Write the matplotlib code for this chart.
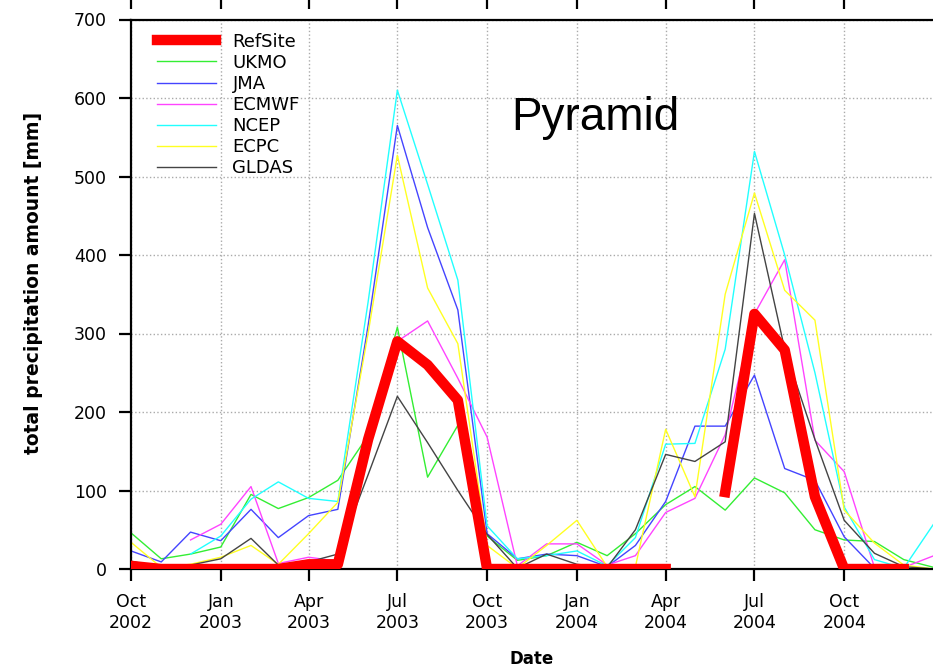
import numpy as np
import pandas as pd
import matplotlib
matplotlib.use("Agg")
import matplotlib.pyplot as plt
import matplotlib.dates as mdates

nan = np.nan

# monthly values, Oct 2002 .. Jan 2005
months = pd.date_range("2002-10-01", "2005-01-01", freq="MS")

refsite = [4, 0, 0, 0, 0, 0, 6, 6, 165, 290, 260, 215, 0, 0, 0, 0, 0, 0, 0, nan,
           98, 325, 279, 92, 0, 0, 0, nan]
ukmo = [46, 13, 19, 28, 95, 77, 91, 113, 170, 308, 117, 183, 42, 11, 17, 34, 17, 45,
        82, 105, 75, 116, 97, 50, 37, 35, 12, 2]
jma = [23, 9, 47, 36, 76, 40, 68, 76, 310, 565, 435, 330, 45, 13, 19, 17, 3, 30,
       86, 182, 182, 247, 128, 113, 41, 1, 0, 0]
ecmwf = [nan, nan, 37, 57, 105, 7, 15, 10, 160, 290, 316, 243, 168, 4, 32, 32, 5, 17,
         72, 90, 171, 325, 394, 164, 124, 2, 2, 17]
ncep = [nan, nan, 19, 42, 89, 111, 90, 86, 340, 610, 490, 368, 55, 13, 17, 23, 4, 40,
        159, 160, 280, 532, 400, 250, 79, 12, 1, 58]
ecpc = [34, 2, 6, 15, 30, 6, 45, 85, 300, 527, 358, 287, 30, 1, 30, 62, 3, 3,
        178, 92, 350, 479, 355, 317, 75, 33, 5, 0]
gldas = [10, 2, 5, 13, 39, 5, 9, 19, 120, 220, 161, 100, 44, 1, 19, 6, 2, 50,
         146, 137, 162, 453, 280, 165, 62, 20, 3, 0]

plt.rcParams['font.family'] = 'DejaVu Sans'

fig = plt.figure(figsize=(9.33, 6.68), dpi=100)
ax = fig.add_axes([131 / 933, 99 / 668, 802 / 933, 549.5 / 668])

ax.plot(months, refsite, color='red', lw=7.5, label='RefSite', zorder=3)
ax.plot(months, ukmo, color='#33ee33', lw=1, label='UKMO')
ax.plot(months, jma, color='#4444ff', lw=1, label='JMA')
ax.plot(months, ecmwf, color='#ff44ff', lw=1, label='ECMWF')
ax.plot(months, ncep, color='#22ffff', lw=1, label='NCEP')
ax.plot(months, ecpc, color='#ffff22', lw=1, label='ECPC')
ax.plot(months, gldas, color='#444444', lw=1, label='GLDAS')

ax.set_xlim(pd.Timestamp("2002-10-01"), pd.Timestamp("2004-12-31"))
ax.set_ylim(0, 700)
ax.set_yticks(range(0, 701, 100))
ax.xaxis.set_major_locator(mdates.MonthLocator(bymonth=[1, 4, 7, 10]))
ax.xaxis.set_major_formatter(mdates.DateFormatter('%b\n%Y'))

ax.grid(True, linestyle=':', color='#aaaaaa', lw=1)
ax.set_axisbelow(True)
for s in ['left', 'bottom', 'top']:
    ax.spines[s].set_linewidth(1.6)
ax.spines['right'].set_visible(False)
ax.tick_params(axis='both', direction='out', length=8.5, width=1.6, labelsize=12.5,
               colors='black', pad=9)

ax.set_ylabel('total precipitation amount [mm]', fontsize=13.5, fontweight='bold')
ax.set_xlabel('Date', fontsize=12, fontweight='bold')
ax.yaxis.set_label_coords(-0.11, 0.52)
ax.xaxis.set_label_coords(0.5, -0.147)

ax.legend(loc='upper left', bbox_to_anchor=(0.032, 0.976), frameon=False,
          fontsize=13, handlelength=3.3, handletextpad=0.9, labelspacing=0.17,
          borderpad=0, borderaxespad=0)

fig.text(511 / 933, (668 - 130) / 668, 'Pyramid', fontsize=33,
         family='Liberation Sans', va='baseline', ha='left')

# ticks of the panel above, just visible at the top edge
ax_up = fig.add_axes([131 / 933, 1.003, 802 / 933, 0.1], sharex=ax)
for s in ax_up.spines.values():
    s.set_visible(False)
ax_up.set_yticks([])
ax_up.tick_params(axis='x', direction='out', length=8, width=1.6, labelbottom=False)
ax_up.patch.set_visible(False)

fig.savefig('out.png', dpi=100)
